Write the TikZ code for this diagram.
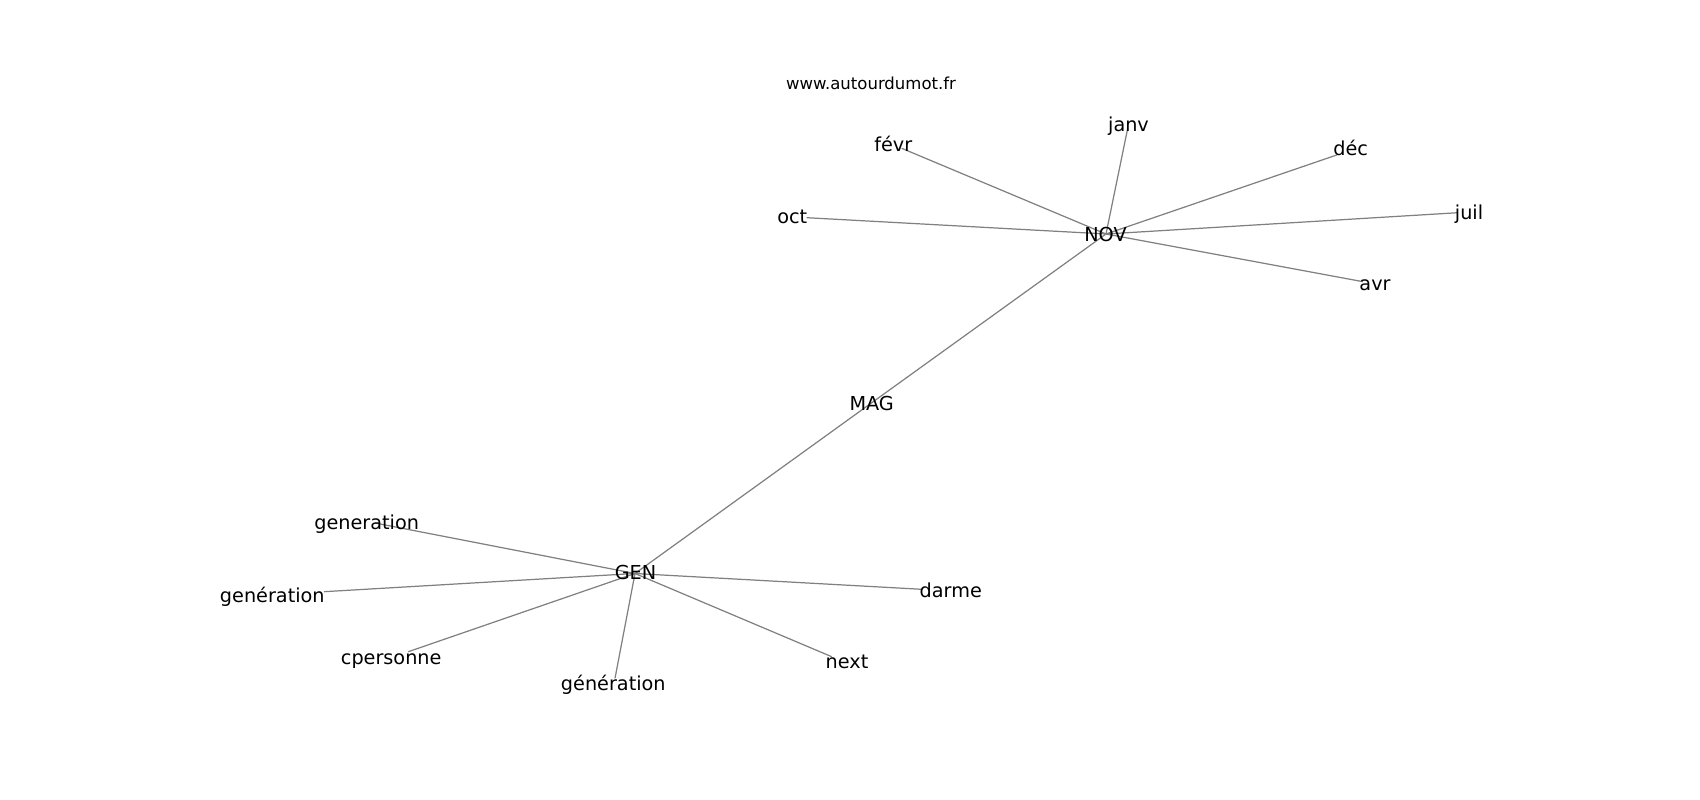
\documentclass[tikz,border=0pt]{standalone}
\usepackage{fontspec}
\setmainfont{DejaVu Sans}
\begin{document}
\begin{tikzpicture}[x=0.02cm,y=-0.02cm,
    word/.style={anchor=base,inner sep=0pt,yshift=-0.5pt,font=\fontsize{10.95}{13}\selectfont},
    link/.style={draw=gray,line width=0.7pt}]
      \useasboundingbox (0,0) rectangle (1700,800);
      % vertices
      \coordinate (nov) at (1106,234);
      \coordinate (mag) at (870,404);
      \coordinate (gen) at (635,573.5);
      \coordinate (janv) at (1127.7,128.3);
      \coordinate (dec) at (1336.7,155);
      \coordinate (juil) at (1458,212.7);
      \coordinate (avr) at (1363,281.7);
      \coordinate (fevr) at (901.7,148.3);
      \coordinate (oct) at (806.7,217.7);
      \coordinate (gena) at (375,523);
      \coordinate (genb) at (324,591.7);
      \coordinate (cpers) at (408.3,651.7);
      \coordinate (genc) at (615,678.3);
      \coordinate (next) at (831.7,656.7);
      \coordinate (darme) at (921.7,589.3);
      % edges
      \draw [link] (gen) -- (mag);
      \draw [link] (mag) -- (nov);
      \draw [link] (nov) -- (janv);
      \draw [link] (nov) -- (dec);
      \draw [link] (nov) -- (juil);
      \draw [link] (nov) -- (avr);
      \draw [link] (nov) -- (fevr);
      \draw [link] (nov) -- (oct);
      \draw [link] (gen) -- (gena);
      \draw [link] (gen) -- (genb);
      \draw [link] (gen) -- (cpers);
      \draw [link] (gen) -- (genc);
      \draw [link] (gen) -- (next);
      \draw [link] (gen) -- (darme);
      % labels
      \node [word,font=\fontsize{9.4}{11}\selectfont] (site) at (871,88.3) {www.autourdumot.fr};
      \node [word] (lnov) at (1105.5,241) {NOV};
      \node [word] (lmag) at (871.7,409.3) {MAG};
      \node [word] (lgen) at (635.5,578.7) {GEN};
      \node [word] (ljanv) at (1128.5,130.5) {janv};
      \node [word] (ldec) at (1350.7,155) {déc};
      \node [word] (ljuil) at (1469,219) {juil};
      \node [word] (lavr) at (1375,290) {avr};
      \node [word] (lfevr) at (893.3,150.7) {févr};
      \node [word] (loct) at (792.3,222.3) {oct};
      \node [word] (lgena) at (366.7,528.3) {generation};
      \node [word] (lgenb) at (272.3,601.7) {genération};
      \node [word] (lcpers) at (391.2,663.3) {cpersonne};
      \node [word] (lgenc) at (613.3,690) {génération};
      \node [word] (lnext) at (847,667.3) {next};
      \node [word] (ldarme) at (950.8,596.7) {darme};
    \end{tikzpicture}
\end{document}
